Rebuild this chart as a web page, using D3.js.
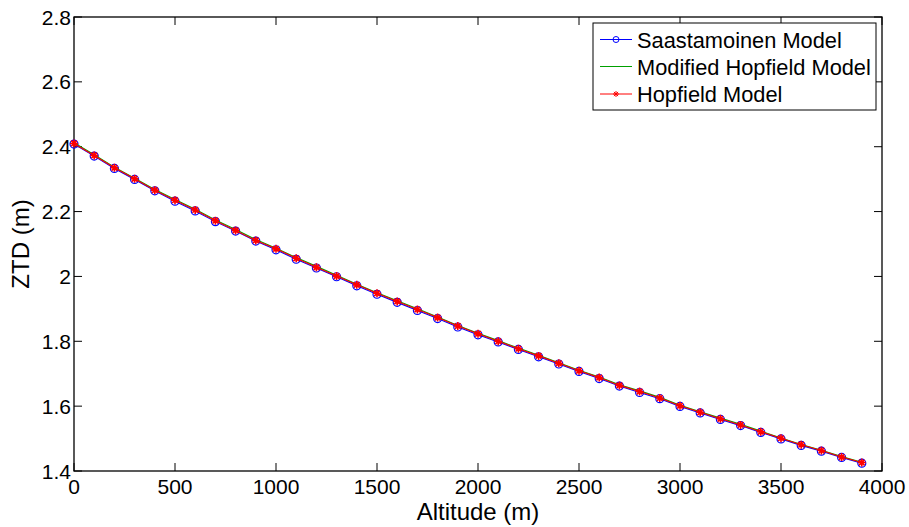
<!DOCTYPE html>
<html><head><meta charset="utf-8">
<script src="https://cdn.jsdelivr.net/npm/d3@7"></script>
<style>body{margin:0;background:#fff}svg{display:block}text{font-family:"Liberation Sans",Arial,sans-serif}</style>
</head><body><svg id="c" width="909" height="527"></svg>
<script>
const altitude = [0,100,200,300,400,500,600,700,800,900,1000,1100,1200,1300,1400,1500,1600,1700,1800,1900,2000,2100,2200,2300,2400,2500,2600,2700,2800,2900,3000,3100,3200,3300,3400,3500,3600,3700,3800,3900];
const saastamoinen = [2.408,2.371,2.333,2.299,2.264,2.232,2.202,2.169,2.140,2.109,2.082,2.053,2.026,1.999,1.971,1.945,1.920,1.895,1.870,1.844,1.820,1.798,1.775,1.752,1.730,1.707,1.685,1.662,1.642,1.623,1.599,1.579,1.559,1.540,1.519,1.499,1.479,1.461,1.442,1.424];
const modifiedHopfield = [2.412,2.375,2.337,2.303,2.268,2.237,2.207,2.174,2.145,2.114,2.087,2.058,2.031,2.004,1.976,1.950,1.925,1.900,1.875,1.849,1.825,1.802,1.779,1.757,1.734,1.711,1.690,1.666,1.647,1.627,1.603,1.583,1.563,1.544,1.523,1.502,1.482,1.464,1.445,1.427];
const hopfield = [2.410,2.373,2.335,2.301,2.266,2.235,2.205,2.172,2.142,2.111,2.085,2.056,2.028,2.001,1.974,1.948,1.923,1.898,1.873,1.847,1.823,1.800,1.777,1.755,1.732,1.709,1.688,1.664,1.645,1.625,1.601,1.581,1.561,1.542,1.521,1.501,1.481,1.463,1.443,1.426];
const xTicks = [0,500,1000,1500,2000,2500,3000,3500,4000];
const yTicks = [1.4,1.6,1.8,2,2.2,2.4,2.6,2.8];
const seriesNames = ["Saastamoinen Model","Modified Hopfield Model","Hopfield Model"];
const seriesColors = ["#0000ff","#00a000","#ff0000"];

const L=74,R=882,T=17,B=471;
const svg=d3.select("#c");
const x=d3.scaleLinear().domain([0,4000]).range([L,R]);
const y=d3.scaleLinear().domain([1.4,2.8]).range([B,T]);
const fs=21;

svg.append("rect").attr("x",L).attr("y",T).attr("width",R-L).attr("height",B-T).attr("fill","#fff").attr("stroke","#000").attr("stroke-width",1.3);

const tl=8;
const g=svg.append("g");
xTicks.forEach(t=>{
  const px=x(t);
  g.append("line").attr("x1",px).attr("x2",px).attr("y1",B).attr("y2",B-tl).attr("stroke","#000");
  g.append("line").attr("x1",px).attr("x2",px).attr("y1",T).attr("y2",T+tl).attr("stroke","#000");
  g.append("text").attr("x",px).attr("y",B+23).attr("text-anchor","middle").attr("font-size",fs).text(d3.format("d")(t));
});
yTicks.forEach(t=>{
  const py=y(t);
  g.append("line").attr("x1",L).attr("x2",L+tl).attr("y1",py).attr("y2",py).attr("stroke","#000");
  g.append("line").attr("x1",R).attr("x2",R-tl).attr("y1",py).attr("y2",py).attr("stroke","#000");
  g.append("text").attr("x",L-3).attr("y",py+7.5).attr("text-anchor","end").attr("font-size",fs).text(t===2?"2":d3.format(".1f")(t));
});

svg.append("text").attr("x",(L+R)/2).attr("y",520).attr("text-anchor","middle").attr("font-size",24).text("Altitude (m)");
svg.append("text").attr("transform",`translate(29,${(T+B)/2}) rotate(-90)`).attr("text-anchor","middle").attr("font-size",24).text("ZTD (m)");

const line=d3.line().x((d,i)=>x(altitude[i])).y(d=>y(d));
const data=[saastamoinen,modifiedHopfield,hopfield];
const star=(s)=>`M${-s},0H${s}M0,${-s}V${s}M${-s*0.7},${-s*0.7}L${s*0.7},${s*0.7}M${-s*0.7},${s*0.7}L${s*0.7},${-s*0.7}`;

data.forEach((vals,k)=>{
  svg.append("path").attr("d",line(vals)).attr("fill","none").attr("stroke",seriesColors[k]).attr("stroke-width",1.1);
  if(k===0){
    svg.selectAll(null).data(vals).enter().append("circle")
      .attr("cx",(d,i)=>x(altitude[i])).attr("cy",d=>y(d)).attr("r",4)
      .attr("fill","none").attr("stroke",seriesColors[k]).attr("stroke-width",1.2);
  }
  if(k===2){
    svg.selectAll(null).data(vals).enter().append("path")
      .attr("transform",(d,i)=>`translate(${x(altitude[i])},${y(d)})`).attr("d",star(4))
      .attr("fill","none").attr("stroke",seriesColors[k]).attr("stroke-width",1.6);
  }
});

const lg=svg.append("g");
lg.append("rect").attr("x",593).attr("y",23).attr("width",283).attr("height",87).attr("fill","#fff").attr("stroke","#000").attr("stroke-width",1);
const rows=[39.5,66.5,94];
seriesNames.forEach((n,k)=>{
  const ry=rows[k];
  lg.append("line").attr("x1",600).attr("x2",632).attr("y1",ry).attr("y2",ry).attr("stroke",seriesColors[k]);
  if(k===0) lg.append("circle").attr("cx",616).attr("cy",ry).attr("r",3).attr("fill","none").attr("stroke",seriesColors[k]);
  if(k===2) lg.append("path").attr("transform",`translate(616,${ry})`).attr("d",star(3)).attr("fill","none").attr("stroke",seriesColors[k]);
  lg.append("text").attr("x",637).attr("y",ry+8).attr("font-size",21.8).text(n);
});
</script></body></html>
